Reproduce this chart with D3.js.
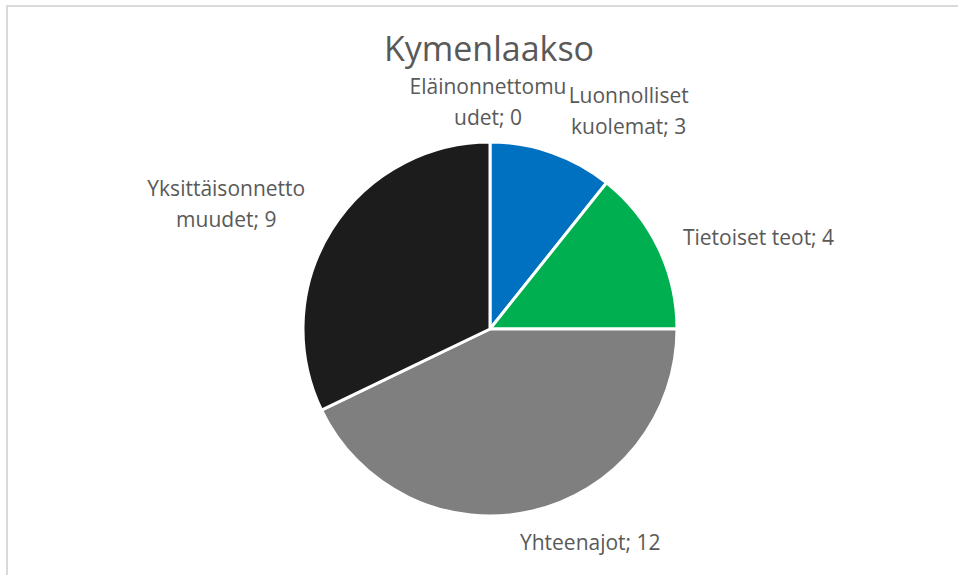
<!DOCTYPE html>
<html><head><meta charset="utf-8">
<script src="https://cdn.jsdelivr.net/npm/d3@7"></script>
<style>html,body{margin:0;padding:0;background:#fff;}svg{display:block;}</style>
</head><body>
<script>
const title = "Kymenlaakso";
const categories = ["Eläinonnettomuudet", "Luonnolliset kuolemat", "Tietoiset teot", "Yhteenajot", "Yksittäisonnettomuudet"];
const values = [0, 3, 4, 12, 9];
const colors = ["#4472C4", "#0070C0", "#00B050", "#7F7F7F", "#1C1C1C"];
// label text lines as wrapped in the reference
const labelLines = [
  ["Eläinonnettomu", "udet; 0"],
  ["Luonnolliset", "kuolemat; 3"],
  ["Tietoiset teot; 4"],
  ["Yhteenajot; 12"],
  ["Yksittäisonnetto", "muudet; 9"]
];

const W = 958, H = 575;
const cx = 490, cy = 329, R = 187;
const svg = d3.select("body").append("svg").attr("width", W).attr("height", H);

// chart frame (top and left visible)
svg.append("line").attr("x1", 6).attr("x2", W).attr("y1", 6).attr("y2", 6).attr("stroke", "#d9d9d9").attr("stroke-width", 2);
svg.append("line").attr("x1", 7).attr("x2", 7).attr("y1", 5).attr("y2", H).attr("stroke", "#d9d9d9").attr("stroke-width", 2);

const font = "'Open Sans', 'Noto Sans', sans-serif";
svg.append("text").attr("x", 489).attr("y", 61).attr("text-anchor", "middle")
  .attr("font-family", font).attr("font-size", 34).attr("fill", "#595959").text(title);

const data = categories.map((c, i) => ({cat: c, value: values[i], i}));
const pie = d3.pie().sort(null).value(d => d.value);
const arcs = pie(data);
const arc = d3.arc().innerRadius(0).outerRadius(R);
const g = svg.append("g").attr("transform", `translate(${cx},${cy})`);
g.selectAll("path").data(arcs).join("path")
  .attr("d", arc).attr("fill", d => colors[d.data.i])
  .attr("stroke", "#fff").attr("stroke-width", 3).attr("stroke-linejoin", "round");

// labels: anchored on an outer arc at each slice's mid-angle, then nudged like the reference's best-fit placement
const labelArc = d3.arc().innerRadius(R + 30).outerRadius(R + 30);
const nudges = [[-2, -10], [67, -13], [73, 3], [52, 2], [-80, -9]];
const lineH = 31;
arcs.forEach((a, k) => {
  const [px, py] = labelArc.centroid(a);
  const lines = labelLines[k];
  const x = cx + px + nudges[k][0];
  const y = cy + py + nudges[k][1] - (lines.length - 1) * lineH / 2;
  const t = svg.append("text").attr("text-anchor", "middle")
    .attr("font-family", font).attr("font-size", 21).attr("fill", "#595959");
  lines.forEach((ln, j) => {
    t.append("tspan").attr("x", x).attr("y", y + j * lineH).attr("dy", "0.35em").text(ln);
  });
});
</script>
</body></html>
